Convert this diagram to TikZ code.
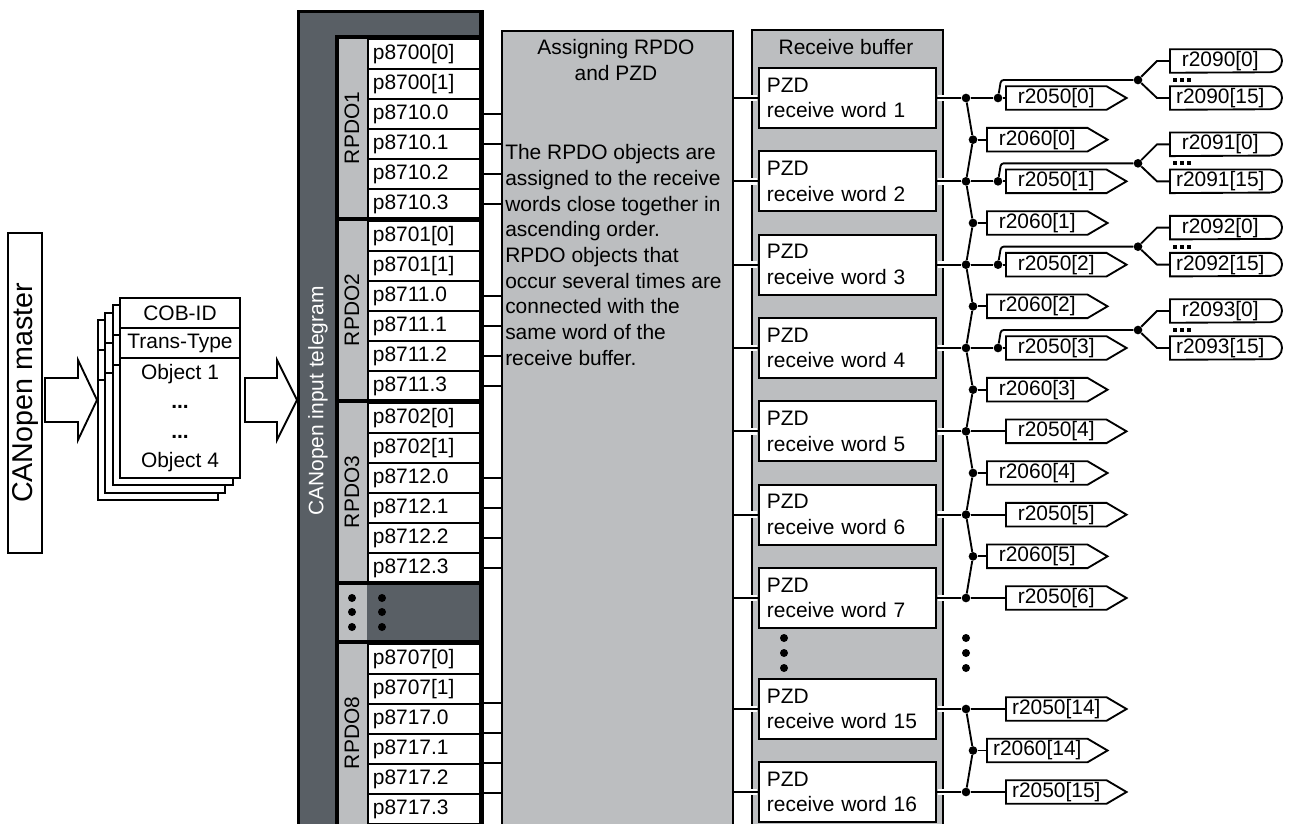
\documentclass[tikz,border=0pt]{standalone}
\usepackage{fontspec}
\setmainfont{Liberation Sans}
\usetikzlibrary{positioning,calc}

\definecolor{teldark}{RGB}{89,95,101}
\definecolor{panelgray}{RGB}{188,190,192}

\tikzset{
  wire/.style={line width=1.4pt},
  halo/.style={draw=white, line width=5pt},
  heavy/.style={line width=2.6pt},
  prow/.style={draw, wire, fill=white, anchor=north west, minimum height=22.5pt,
    text width=77pt, inner xsep=3.75pt, inner ysep=0pt},
  grplabel/.style={rotate=90, inner sep=0pt},
  panel/.style={draw, line width=1.6pt, fill=panelgray, anchor=north west, inner sep=0pt},
  pzd/.style={draw, wire, fill=white, anchor=west, minimum height=45pt,
    text width=120.75pt, inner xsep=6pt, align=left},
  sigbox/.style={anchor=west, minimum width=75pt, minimum height=17.25pt, inner sep=0pt},
  cardrow/.style={draw, wire, fill=white, minimum width=90pt, inner sep=0pt, outer sep=0pt},
  joint/.style={circle, fill, inner sep=0pt, minimum size=6.5pt},
  blockarrow/.style={wire, fill=white, line join=miter},
}

% output signal (pointed) and end signal (rounded)
\newcommand\drawsigout[1]{\draw[wire] (#1.north west) -- (#1.north east)
  -- ([xshift=15pt]#1.east) -- (#1.south east) -- (#1.south west) -- cycle;}
\newcommand\drawsigend[1]{\draw[wire] (#1.north west) -- (#1.north east)
  arc[start angle=90, end angle=-90, radius=8.625pt] -- (#1.south west) -- cycle;}

\begin{document}
\begin{tikzpicture}[x=0.75pt, y=-0.75pt, font=\fontsize{15.7}{19.3}\selectfont]
\useasboundingbox (0,0) rectangle (1290,824);
\clip (0,0) rectangle (1290,824);

% master and the stack of messages
\node[draw, wire, rotate=90, minimum width=240pt, minimum height=25.5pt, inner sep=0pt,
  font=\fontsize{21.5}{25}\selectfont] (master) at (25,393) {CANopen master};
\draw[blockarrow] (45,378) -- ++(33,0) -- ++(0,-18) -- ++(19,40) -- ++(-19,40)
  -- ++(0,-18) -- ++(-33,0) -- cycle;
\foreach \off in {22,14.67,7.33} {
  \draw[wire, fill=white] (120-\off,298+\off) rectangle ++(120,180);
  \draw[wire] (120-\off,328+\off) -- ++(120,0) (120-\off,358+\off) -- ++(120,0);
}
\node[cardrow, minimum height=22.5pt] (cob) at (180,313) {COB-ID};
\node[cardrow, minimum height=22.5pt, below=0pt of cob] (trans) {Trans-Type};
\node[cardrow, minimum height=90pt, align=center, below=0pt of trans,
  font=\fontsize{15.7}{22}\selectfont] (objs) {Object 1\\\textbf{...}\\\textbf{...}\\Object 4};
\draw[blockarrow] (245,378) -- ++(32,0) -- ++(0,-18) -- ++(20,40) -- ++(-20,40)
  -- ++(0,-18) -- ++(-32,0) -- cycle;

% input telegram
\node[panel, fill=teldark, line width=2.6pt, minimum width=138pt, minimum height=615pt] (tel) at (297,10) {};
\node[grplabel, text=white] (tellabel) at (318,401) {CANopen input telegram};
\fill[panelgray] (337,37) rectangle (367,830);
\foreach \grp/\ytop/\parA/\parB in {1/38/8700/8710, 2/220/8701/8711, 3/402/8702/8712, 8/643/8707/8717} {
  \node[prow] (r\grp-0) at (367,\ytop) {p\parA[0]};
  \node[prow] (r\grp-1) at (367,\ytop+30) {p\parA[1]};
  \foreach \bit in {0,...,3} {
    \pgfmathtruncatemacro\rowno{\bit+2}
    \node[prow] (r\grp-\rowno) at (367,\ytop+30*\rowno) {p\parB.\bit};
  }
  \node[grplabel] (lab\grp) at (352,\ytop+90) {RPDO\grp};
}
\draw[heavy] (337,830) -- (337,37) -- (481,37);
\foreach \y in {219,401,583,642} \draw[heavy] (337,\y) -- (481,\y);
\draw[heavy] (481,10) -- (481,830);
\foreach \y in {598,612,627} {
  \fill (352,\y) circle[radius=3pt];
  \fill (382,\y) circle[radius=3pt];
}

% assigning RPDO and PZD
\node[panel, minimum width=173.25pt, minimum height=600pt] (assign) at (501,30) {};
\node[align=center] (asgtitle) at (616,60) {Assigning RPDO\\and PZD};
\node[align=left, anchor=west, inner sep=0pt] (asgtext) at (505,255)
  {The RPDO objects are\\assigned to the receive\\words close together in\\ascending order.\\RPDO objects that\\occur several times are\\connected with the\\same word of the\\receive buffer.};
\foreach \grp in {1,2,3} \foreach \rowno in {2,...,5}
  \draw[wire] (r\grp-\rowno.east) -- (r\grp-\rowno.east -| assign.west);
\foreach \rowno in {2,...,5}
  \draw[wire] (r8-\rowno.north east) -- (r8-\rowno.north east -| assign.west);

% receive buffer
\node[panel, minimum width=143.25pt, minimum height=600.75pt] (buffer) at (751,29) {};
\node (buftitle) at (846,47) {Receive buffer};
\foreach \wi/\yc in {1/98, 2/181.33, 3/264.67, 4/348, 5/431.33, 6/514.67, 7/598, 15/709, 16/792} {
  \node[pzd] (w\wi) at (758,\yc) {PZD\\receive word \wi};
  \draw[halo] ($(buffer.west |- w\wi.west)+(-3,0)$) -- ($(w\wi.west)+(-1,0)$);
  \draw[halo] ($(w\wi.east)+(1,0)$) -- ($(buffer.east |- w\wi.east)+(3,0)$);
  \draw[wire] (assign.east |- w\wi.west) -- (w\wi.west);
  \node[joint] (j\wi) at (966,\yc) {};
  \draw[wire] (w\wi.east) -- (j\wi);
}
\foreach \y in {638,653,668} {
  \fill (784,\y) circle[radius=3pt];
  \fill (966,\y) circle[radius=3pt];
}

% r2060 outputs between the words
\foreach \ri/\ym in {0/139.67, 1/223, 2/306.33, 3/389.67, 4/473, 5/556.33, 14/750.5} {
  \node[joint] (m\ri) at (973,\ym) {};
  \node[sigbox] (s60-\ri) at (987,\ym) {r2060[\ri]};
  \drawsigout{s60-\ri}
  \draw[wire] (m\ri) -- (s60-\ri);
}
\draw[wire] (j1) -- (m0) -- (j2) -- (m1) -- (j3) -- (m2) -- (j4) -- (m3) -- (j5)
  -- (m4) -- (j6) -- (m5) -- (j7);
\draw[wire] (j15) -- (m14) -- (j16);

% r2050 outputs
\foreach \wi/\yc in {5/431.33, 6/514.67, 7/598, 15/709, 16/792} {
  \pgfmathtruncatemacro\ri{\wi-1}
  \node[sigbox] (s50-\ri) at (1006,\yc) {r2050[\ri]};
  \drawsigout{s50-\ri}
  \draw[wire] (j\wi) -- (s50-\ri);
}
% first four words also go out bitwise
\foreach \wi/\yc in {1/98, 2/181.33, 3/264.67, 4/348} {
  \pgfmathtruncatemacro\ri{\wi-1}
  \pgfmathtruncatemacro\regno{2089+\wi}
  \node[joint] (d\wi) at (998,\yc) {};
  \node[sigbox] (s50-\ri) at (1006,\yc) {r2050[\ri]};
  \drawsigout{s50-\ri}
  \draw[wire] (j\wi) -- (d\wi) -- (s50-\ri);
  \node[joint] (e\wi) at (1138,\yc-18) {};
  \draw[wire, rounded corners=2pt] (d\wi) -- ++(3,-18) -- (e\wi);
  \node[sigbox] (top\wi) at (1170,\yc-37) {r\regno[0]};
  \node[sigbox] (bot\wi) at (1170,\yc) {r\regno[15]};
  \drawsigend{top\wi}
  \drawsigend{bot\wi}
  \draw[wire] (e\wi) -- ++(19,-19) -- (top\wi);
  \draw[wire] (e\wi) -- ++(19,18) -- (bot\wi);
  \foreach \dx in {0,7,14}
    \fill (1173+\dx,\yc-20) rectangle ++(4,4);
}
\end{tikzpicture}
\end{document}
